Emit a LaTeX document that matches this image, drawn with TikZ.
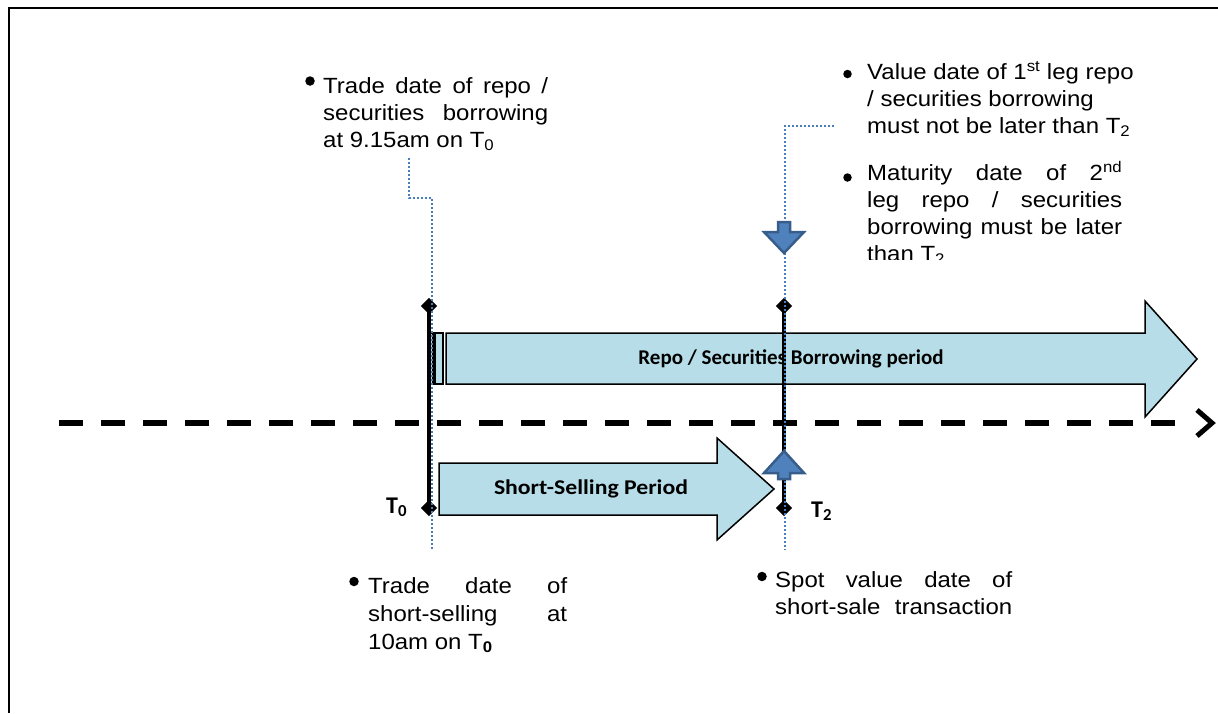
\documentclass[tikz,border=0pt]{standalone}
\usepackage{fontspec}
\usepackage{graphicx}
\setmainfont{Liberation Sans}[FakeStretch=1.09]
\newfontfamily\calib{Carlito}
\definecolor{barfill}{HTML}{B7DEE8}
\definecolor{guidecol}{HTML}{4A7EBB}
\definecolor{markfill}{HTML}{4F81BD}
\definecolor{markdraw}{HTML}{385D8A}
\tikzset{
  bar/.style={fill=barfill, draw=black, line width=1.5pt, line join=miter},
  tickline/.style={line width=3.5pt, black},
  diam/.style={rectangle, rotate=45, fill=black, minimum size=11.5pt, inner sep=0pt},
  guide/.style={draw=guidecol, line width=2.4pt, dash pattern=on 2pt off 2pt},
  marker/.style={fill=markfill, draw=markdraw, line width=2.5pt, line join=miter},
  axisline/.style={line width=6pt, dash pattern=on 24pt off 18pt},
  barlabel/.style={font=\calib\bfseries\fontsize{21}{25}\selectfont, inner sep=0pt},
  tlabel/.style={font=\calib\bfseries\fontsize{24}{28}\selectfont, inner sep=0pt, anchor=base west},
  txt/.style={font=\fontsize{22}{27}\selectfont, anchor=base west, inner sep=0pt, align=left},
  bulletdot/.style={circle, fill=black, inner sep=0pt, minimum size=9.5pt}
}
\begin{document}
\begin{tikzpicture}[x=1pt,y=-1pt]
\useasboundingbox (0,0) rectangle (1218,713);
% frame
\draw[line width=2pt] (9,713) -- (9,8) -- (1218,8);

% axis
\coordinate (axs) at (59,423);
\coordinate (axe) at (1190,423);
\draw[axisline] (axs) -- (axe);
\draw[line width=5pt, line join=miter] (1197,410) -- (1212,423) -- (1197,436);

% repo bar
\draw[bar] (429,333) rectangle (433,384);
\draw[bar] (435,333) rectangle (443,384);
\draw[bar] (446,333) -- (1145,333) -- (1145,301) -- (1197,359) -- (1145,417) -- (1145,384) -- (446,384) -- cycle;
\node[barlabel] (repolbl) at (791,359) {Repo / Securities Borrowing period};

% short-selling bar
\draw[bar] (439,463) -- (717,463) -- (717,438) -- (774,489) -- (717,540) -- (717,515) -- (439,515) -- cycle;
\node[barlabel] (sslbl) at (591,489) {\scalebox{1.13}[1]{Short-Selling Period}};

% T0 and T2 ticks
\node[diam] (t0top) at (429,306) {};
\node[diam] (t0bot) at (429,508) {};
\node[diam] (t2top) at (784,306) {};
\node[diam] (t2bot) at (784,508) {};
\draw[tickline] (t0top.center) -- (t0bot.center);
\draw[tickline] (t2top.center) -- (t2bot.center);
\node[tlabel] (t0lbl) at (386,513) {T\textsubscript{0}};
\node[tlabel] (t2lbl) at (811,517) {T\textsubscript{2}};

% guides
\coordinate (g0a) at (409,158);
\coordinate (g0b) at (409,198);
\coordinate (g0c) at (432,198);
\coordinate (g0d) at (432,550);
\draw[guide] (g0a) -- (g0b) -- (g0c) -- (g0d);
\coordinate (g2a) at (834,126);
\coordinate (g2b) at (785,126);
\coordinate (g2c) at (785,550);
\draw[guide] (g2a) -- (g2b) -- (g2c);

% blue markers
\draw[marker] (778,222) -- (790,222) -- (790,232) -- (804,232) -- (784,253) -- (764,232) -- (778,232) -- cycle;
\draw[marker] (784,451) -- (804,473) -- (790,473) -- (790,479) -- (778,479) -- (778,473) -- (764,473) -- cycle;

% texts
\node[bulletdot] (b1) at (310,81) {};
\node[txt] (trrepo) at (323,147) {\makebox[225pt][s]{Trade date of repo /}\\\makebox[225pt][s]{securities borrowing}\\at 9.15am on T\textsubscript{0}};

\node[bulletdot, minimum size=8.5pt] (b2) at (847.5,74) {};
\node[txt] (valdate) at (867,133) {Value date of 1\textsuperscript{st} leg repo\\/ securities borrowing\\must not be later than T\textsubscript{2}};
\node[bulletdot, minimum size=8.5pt] (b3) at (847.5,177.5) {};
\begin{scope}
\clip (850,140) rectangle (1160,259.5);
\node[txt] (matdate) at (867,261) {\makebox[255pt][s]{Maturity date of 2\textsuperscript{nd}}\\\makebox[255pt][s]{leg repo / securities}\\\makebox[255pt][s]{borrowing must be later}\\than T\textsubscript{2}};
\end{scope}

\node[bulletdot] (b4) at (354,581.5) {};
\node[txt, font=\fontsize{22}{28}\selectfont] (tss) at (368,649) {\makebox[199pt][s]{Trade date of}\\\makebox[199pt][s]{short-selling at}\\10am on T\textsubscript{\textbf{0}}};

\node[bulletdot] (b5) at (762,576.5) {};
\node[txt] (spot) at (775,614) {\makebox[237pt][s]{Spot value date of}\\\makebox[237pt][s]{short-sale transaction}};
\end{tikzpicture}
\end{document}
